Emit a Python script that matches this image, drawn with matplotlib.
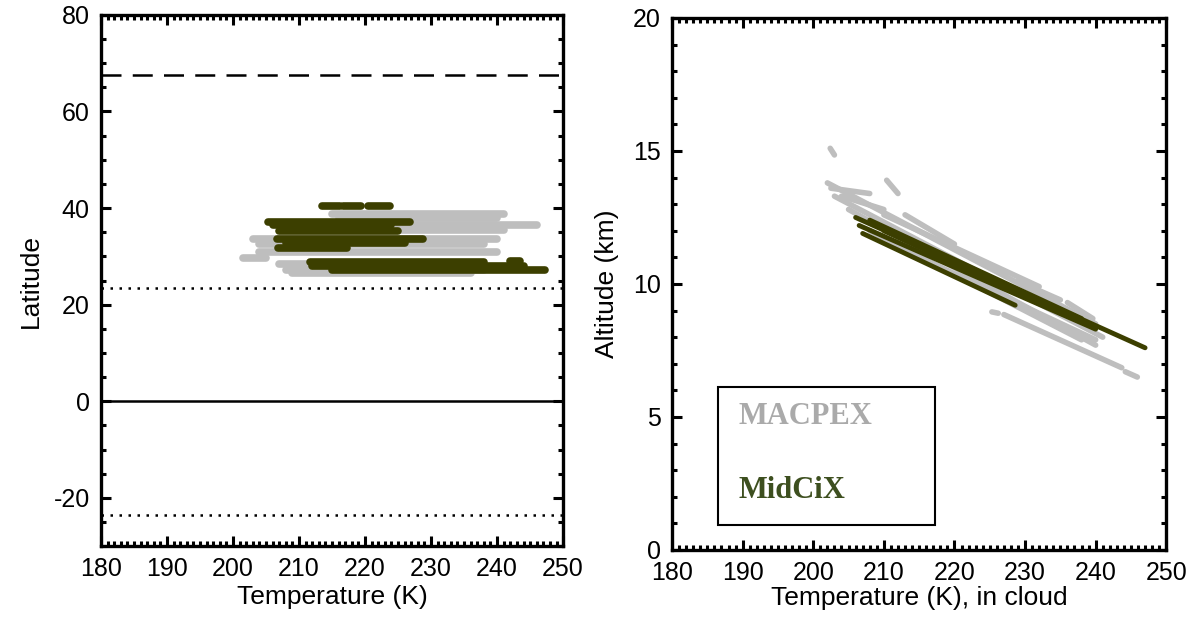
import matplotlib.pyplot as plt
from matplotlib.ticker import MultipleLocator
from matplotlib.patches import Rectangle

# left panel: latitude streaks (lat, T start, T end)
macpex_lat = [38.8, 37.9, 36.6, 35.4, 33.6, 32.6, 31.0, 29.6, 28.4, 27.2, 26.6]
macpex_lat_t0 = [215.0, 216.0, 222.0, 224.0, 203.0, 204.0, 204.0, 201.5, 207.0, 208.0, 209.0]
macpex_lat_t1 = [241.0, 240.0, 246.0, 241.0, 240.0, 238.0, 240.0, 205.0, 234.0, 238.0, 236.0]

midcix_lat = [40.5, 40.5, 40.5, 37.2, 36.5, 35.2, 33.6, 32.8, 31.8, 29.1, 28.9, 28.0, 27.2]
midcix_lat_t0 = [213.5, 216.6, 220.4, 205.3, 206.0, 207.0, 206.7, 208.0, 206.8, 242.0, 211.7, 212.0, 215.0]
midcix_lat_t1 = [216.2, 219.4, 223.8, 226.8, 224.0, 225.0, 228.8, 226.0, 217.3, 243.5, 238.0, 244.0, 247.3]

# reference latitudes
lat_dashed = 67.5
lat_tropics = [23.5, -23.5]
lat_equator = 0

# right panel: altitude streaks (T start, alt start, T end, alt end)
macpex_t0 = [202.0, 203.0, 205.0, 208.0, 210.0, 213.0, 229.0, 236.0, 210.4, 202.4, 227.0, 244.2, 225.3, 202.5, 204.0, 215.0]
macpex_a0 = [13.8, 13.3, 12.8, 12.0, 12.6, 12.6, 10.1, 9.3, 13.9, 15.1, 8.85, 6.7, 8.95, 13.6, 13.3, 11.0]
macpex_t1 = [240.0, 241.0, 240.0, 238.0, 232.0, 220.0, 235.0, 239.6, 212.0, 203.0, 243.7, 245.9, 226.2, 208.0, 210.0, 240.0]
macpex_a1 = [8.5, 8.0, 7.7, 7.9, 9.9, 11.5, 9.4, 8.7, 13.4, 14.85, 6.85, 6.5, 8.9, 13.4, 12.8, 7.9]

midcix_t0 = [206.0, 206.5, 207.0, 210.0, 208.0]
midcix_a0 = [12.5, 12.2, 11.9, 12.0, 12.4]
midcix_t1 = [247.0, 240.0, 228.6, 236.0, 238.0]
midcix_a1 = [7.6, 8.3, 9.2, 8.8, 8.7]

gray = '#bebebe'
dark = '#3c3f00'

plt.rcParams['font.family'] = ['Liberation Sans', 'DejaVu Sans']
plt.rcParams['font.size'] = 18
plt.rcParams['axes.unicode_minus'] = False

fig = plt.figure(figsize=(11.88, 6.2), dpi=100)
ax1 = fig.add_axes([0.085, 0.119, 0.389, 0.857])
ax2 = fig.add_axes([0.5657, 0.113, 0.416, 0.858])

for lat, t0, t1 in zip(macpex_lat, macpex_lat_t0, macpex_lat_t1):
    ax1.plot([t0, t1], [lat, lat], color=gray, lw=5.5, solid_capstyle='round')
for lat, t0, t1 in zip(midcix_lat, midcix_lat_t0, midcix_lat_t1):
    ax1.plot([t0, t1], [lat, lat], color=dark, lw=5.5, solid_capstyle='round')

ax1.axhline(lat_dashed, color='k', lw=1.8, dashes=(8, 4.5))
for lat in lat_tropics:
    ax1.axhline(lat, color='k', lw=1.8, dashes=(1, 2.6))
ax1.axhline(lat_equator, color='k', lw=1.8)

ax1.set_xlim(180, 250)
ax1.set_ylim(-30, 80)
ax1.xaxis.set_major_locator(MultipleLocator(10))
ax1.xaxis.set_minor_locator(MultipleLocator(1))
ax1.yaxis.set_major_locator(MultipleLocator(20))
ax1.yaxis.set_minor_locator(MultipleLocator(5))
ax1.set_xlabel('Temperature (K)', labelpad=3, fontsize=19)
ax1.set_ylabel('Latitude', labelpad=8, fontsize=19)

for t0, a0, t1, a1 in zip(macpex_t0, macpex_a0, macpex_t1, macpex_a1):
    ax2.plot([t0, t1], [a0, a1], color=gray, lw=4, solid_capstyle='round')
for t0, a0, t1, a1 in zip(midcix_t0, midcix_a0, midcix_t1, midcix_a1):
    ax2.plot([t0, t1], [a0, a1], color=dark, lw=3.5, solid_capstyle='round')

ax2.set_xlim(180, 250)
ax2.set_ylim(0, 20)
ax2.xaxis.set_major_locator(MultipleLocator(10))
ax2.xaxis.set_minor_locator(MultipleLocator(1))
ax2.yaxis.set_major_locator(MultipleLocator(5))
ax2.yaxis.set_minor_locator(MultipleLocator(1))
ax2.set_xlabel('Temperature (K), in cloud', labelpad=1, fontsize=19)
ax2.set_ylabel('Altitude (km)', labelpad=10, fontsize=19)

# legend box drawn like the original
ax2.add_patch(Rectangle((0.092, 0.047), 0.44, 0.26, transform=ax2.transAxes,
                        fill=False, lw=1.5, ec='k'))
ax2.text(0.135, 0.25, 'MACPEX', transform=ax2.transAxes, color='#aaaaaa',
         family='Liberation Serif', weight='bold', fontsize=22, va='center')
ax2.text(0.135, 0.112, 'MidCiX', transform=ax2.transAxes, color='#3d4f1f',
         family='Liberation Serif', weight='bold', fontsize=22, va='center')

for ax in (ax1, ax2):
    for s in ax.spines.values():
        s.set_linewidth(2.4)
    ax.tick_params(which='both', direction='in', top=True, right=True, width=2.2)
    ax.tick_params(which='major', length=7, pad=8)
    ax.tick_params(which='minor', length=3.5)

fig.savefig('out.png', dpi=100)
